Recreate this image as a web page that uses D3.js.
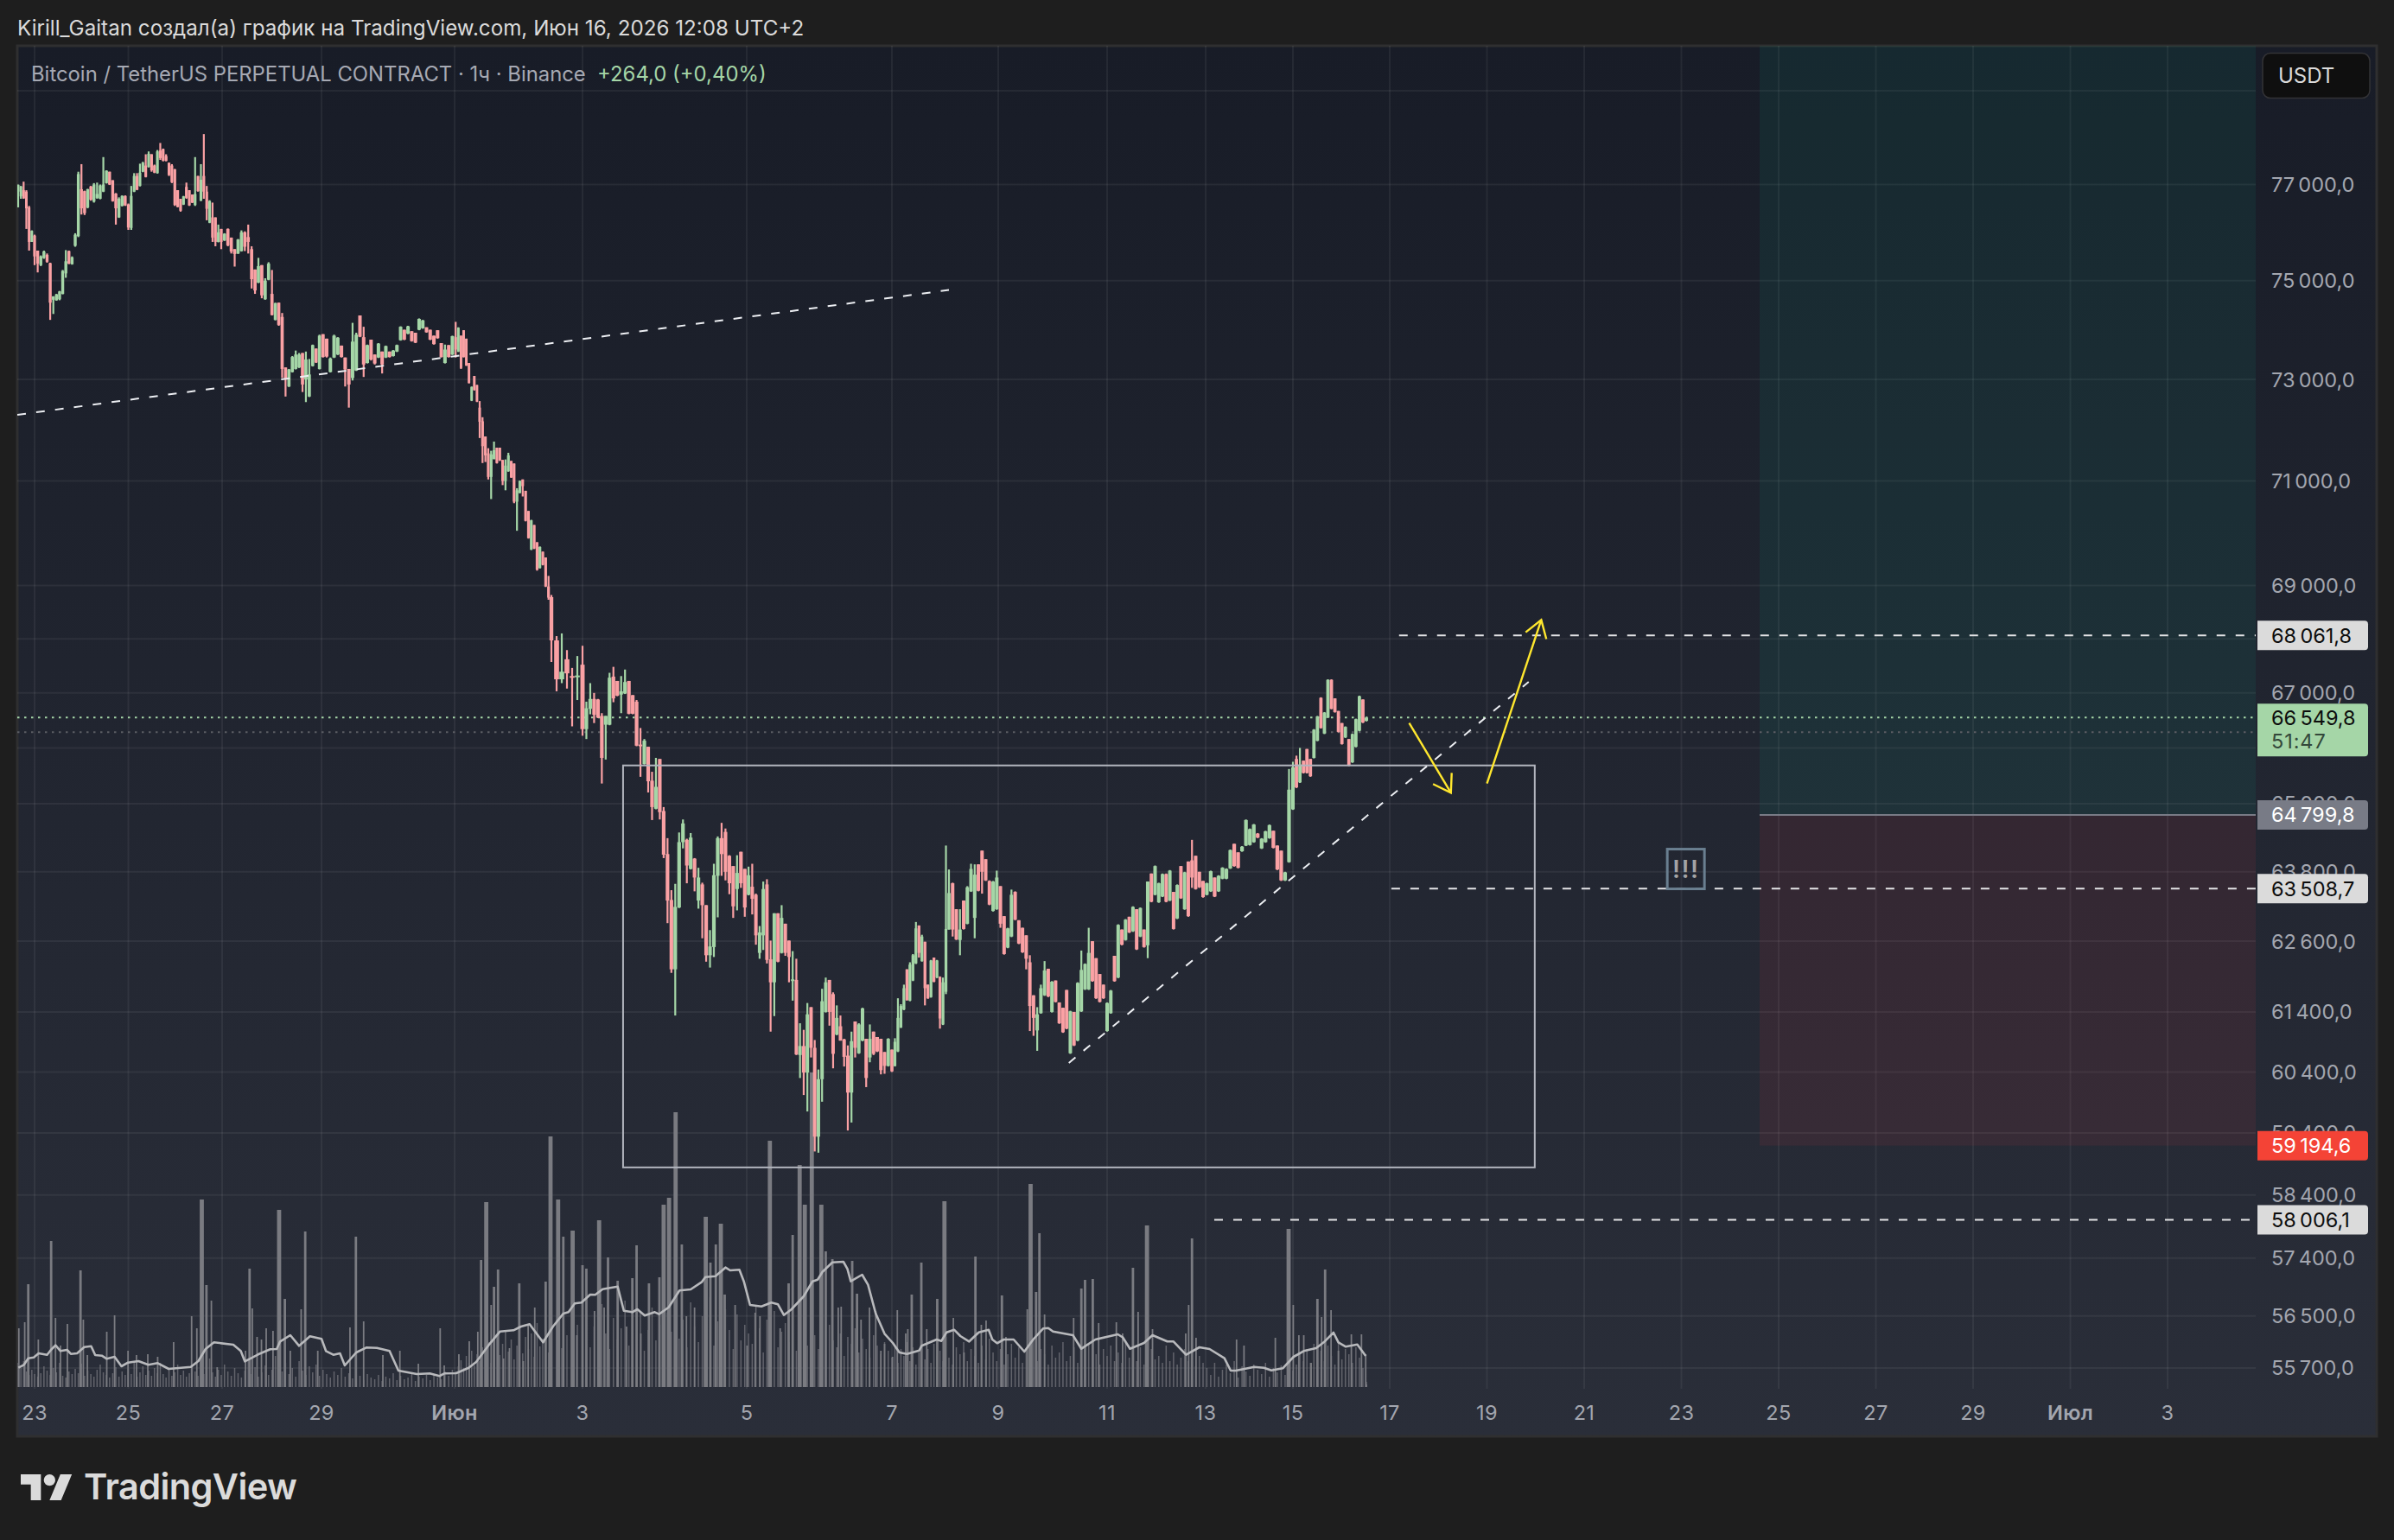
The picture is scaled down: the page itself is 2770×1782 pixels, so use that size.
<!DOCTYPE html>
<html><head><meta charset="utf-8">
<script src="https://cdn.jsdelivr.net/npm/d3@7"></script>
<style>html,body{margin:0;padding:0;background:#1e1e1e}svg{display:block}text{font-family:Inter,"Noto Sans",sans-serif}</style>
</head><body><svg id="c" width="2770" height="1782"></svg>
<script>
// ---- DATA: rows are [open, high, low, close] ----
const ohlcMay = [
[76850,77000,76520,76990],[76750,76970,76700,76960],[76880,77060,76700,76710],[76850,76880,76070,76500],[76520,76550,75620,75800],[75800,76040,75800,76030],[75930,75950,75320,75500],[75620,75620,75170,75350],[75320,75520,75300,75500],[75470,75620,75450,75600],
[75530,75560,75370,75390],[75360,75370,74200,74550],[74610,74680,74320,74680],[74600,74730,74590,74720],[74620,74790,74600,74780],[74730,75220,74720,75200],[75150,75630,75060,75400],[75610,75620,75340,75350],[75340,75500,75330,75480],[75720,75980,75700,75950],
[75920,77270,75900,77220],[76900,77430,76370,76500],[76860,76870,76360,76400],[76520,76910,76500,76900],[76960,76970,76660,76680],[76640,77030,76620,77000],[76720,77040,76700,76800],[76700,77000,76690,76980],[76850,77580,76840,77000],[77030,77300,77020,77290],
[77270,77270,76990,77000],[77090,77090,76640,76650],[76810,76820,76160,76500],[76310,76730,76300,76700],[76550,76770,76540,76760],[76760,76770,76550,76560],[76580,76600,76050,76100],[76090,76970,76050,76760],[76850,77240,76840,77180],[77180,77240,76880,76890],
[76970,77440,76960,77250],[77270,77480,77260,77460],[77400,77640,77150,77160],[77370,77700,77360,77650],[77640,77640,77270,77300],[77400,77420,77240,77250],[77240,77730,77230,77700],[77720,77880,77520,77560],[77750,77760,77490,77500],[77600,77640,77490,77500],
[77460,77460,77180,77200],[77400,77430,77030,77050],[77320,77330,76550,76570],[76880,76880,76520,76530],[76700,76700,76430,76450],[76580,76760,76570,76750],[76950,77040,76700,76720],[76880,76880,76550,76560],[76790,76790,76610,76620],[76570,77580,76550,76800],
[77180,77180,76850,76860],[76660,77430,76650,77100],[77180,78070,76700,76850],[76850,76970,76250,76490],[76200,76670,76190,76650],[76310,76620,75800,75890],[76310,76310,75710,75800],[75800,76160,75790,76000],[76070,76070,75650,75800],[75830,75980,75820,75970],
[76070,76080,75710,75730],[75890,75890,75560,75600],[75650,75650,75290,75550],[75560,75860,75550,75850],[75610,76040,75600,76000],[76000,76020,75610,75700],[75900,76160,75560,75800],[75650,75710,74840,75030],[75230,75230,74730,74800],[74960,75470,74950,75300],
[75320,75320,74640,74700],[74620,75050,74610,75000],[75020,75380,75010,75350],[74730,75220,74290,74300],[74200,74550,74190,74540],[74550,74550,74080,74100],[74260,74340,73030,73210],[73240,73240,72660,73000],[72860,73210,72850,73200],[73150,73470,73140,73450],
[73210,73580,73200,73500],[73240,73530,73230,73500],[73530,73530,72750,72900],[73000,73560,72550,73400],[72660,73410,72650,73100],[73270,73700,73260,73690],[73620,73620,73330,73340],[73210,73900,73200,73880],[73910,73910,73440,73450],[73820,73820,73440,73460],
[73150,73440,73140,73420],[73440,73900,73430,73880],[73500,73850,73490,73840],[73680,73680,73440,73450],[73440,73440,72860,73200],[73210,73210,72440,72900],[73030,74140,72980,73760],[73180,73940,73170,73900],[74290,74290,73850,73860],[73850,74060,73050,73300],
[73330,73700,73320,73690],[73800,73800,73380,73400],[73500,73500,73300,73320],[73440,73730,73430,73720],[73560,73560,73120,73300],[73440,73680,73430,73670],[73560,73560,73440,73450],[73470,73590,73460,73580],[73560,73700,73550,73690],[73790,74070,73780,74060],
[74000,74000,73790,73800],[73920,74080,73910,74070],[73970,73970,73760,73770],[73940,73940,73730,73740],[74000,74230,73990,74220],[74030,74200,74020,74190],[74050,74050,73940,73950],[74000,74000,73790,73800],[73880,73880,73700,73710],[73990,73990,73820,73830],
[73730,73730,73440,73450],[73330,73700,73320,73600],[73690,73690,73440,73450],[73500,73880,73490,73870]];
const ohlcFall = [
[73850,74160,73440,73600],[73560,74050,73550,74040],[73880,73880,73210,73230],[73990,73990,73440,73450],[73820,73820,73270,73280],[73330,73330,72920,72930],[72580,72860,72570,72850],[73070,73070,72780,72790],[72890,72890,72550,72560],[72440,72570,71840,72160],
[72170,72250,71350,71680],[71870,71870,71370,71500],[71540,71640,71030,71080],[71080,71590,70650,71520],[71430,71770,71420,71600],[71650,71650,71340,71350],[71650,71650,71390,71400],[71410,71410,70920,71000],[71000,71420,70820,71300],[71190,71550,71180,71500],
[71390,71390,71060,71070],[71340,71340,70570,70600],[70600,70860,70040,70820],[70770,71010,70760,71000],[71030,71030,70700,70900],[70810,70810,70220,70230],[70420,70420,69890,69900],[69680,70250,69670,70240],[70150,70150,69690,69700],[69820,69820,69280,69300],
[69330,69740,69320,69730],[69640,69640,69380,69390],[69530,69530,68970,68980],[68980,69180,68730,68770],[68780,68820,67570,67970],[67970,68050,67030,67250],[67250,68100,67180,67390],[67620,67790,67080,67360],[67310,67460,66390,67300],[67300,67680,66870,67320],
[67520,67870,66220,66340]];
const ohlcBase = [
[66340,66840,66160,66720],[66710,67180,66610,66890],[66890,67000,66450,66600],[66880,66890,66540,66550],[66580,66630,65360,65820],[66420,66580,65790,66580],[66420,67370,66410,67280],[67300,67480,66830,66900],[67220,67220,66940,66950],[66970,67310,66630,67030],
[66990,67430,66980,67200],[67220,67220,66610,66620],[66960,66960,66610,66620],[66840,66870,66030,66040],[66060,66360,65480,66050],[65710,66160,65700,66130],[66020,66020,65200,65400],[65410,65570,64710,64940],[64910,65820,64900,65300],[65800,65800,64720,64850],
[64870,64940,64040,64100],[64110,64390,62910,63300],[63310,63480,62060,62120],[62120,63590,61340,63190],[63180,64490,63170,64320],[64320,64720,64210,64650],[64360,64380,63600,63910],[63850,64480,63840,64400],[64030,64040,63460,63700],[63300,63870,63160,63700],
[63580,63610,62650,63220],[63220,63220,62250,62360],[62360,62790,62150,62510],[62500,63940,62330,63740],[63730,64420,63010,64390],[64390,64660,63730,64110],[64500,64560,63650,63800],[64080,64090,63410,63600],[63900,63900,63000,63200],[63500,64090,63130,63780],
[64150,64150,63520,63600],[63850,63850,63020,63180],[63400,63890,63390,63740],[63540,63940,63060,63330],[63400,63420,62540,62700],[62400,62860,62300,62750],[62700,63630,62450,63500],[63580,63670,62220,62280],[62290,62610,61070,61900],[61900,63080,61330,63080],
[63080,63080,62240,62250],[62400,63220,62390,63000],[62900,62900,62350,62400],[62610,62610,61900,62330],[61930,62430,61590,61950],[61940,62300,60680,60690],[60680,61210,60300,60830],[60830,61100,60020,60390],[60390,61550,59750,61360],[61480,61480,60640,60800],
[60800,60930,59100,59340],[59340,60440,59080,60280],[60280,61790,59910,61580],[61400,61980,61390,61900],[61940,61940,61170,61400],[61700,61730,60460,60700],[61020,61510,61010,61300],[61160,61340,60920,60920],[60940,60950,60490,60650],[60670,60840,59440,60060],
[60060,61070,59570,60910],[61240,61240,60640,60800],[60710,61210,60700,61190],[60920,61470,60910,61460],[60950,60950,60150,60300],[60640,61190,60560,60950],[61070,61070,60680,60700],[60980,60980,60730,60740],[60950,60950,60360,60430],[60730,60730,60370,60500],
[60500,60960,60490,60950],[60770,60770,60400,60410]];
const ohlcTurn = [
[60500,60960,60490,60900],[60740,61630,60730,61300],[61140,61530,61130,61500],[61440,61860,61430,61800],[62120,62120,61590,61600],[61590,62240,61580,62200],[61930,62380,61920,62360],[62220,62930,62210,62820],[62870,62870,62320,62400],[62260,62710,62250,62680],
[62590,62590,61510,61800],[61860,61860,61620,61630],[61650,62280,61640,62270],[62320,62320,61900,61910],[61980,62280,61970,62270],[61990,62000,61120,61290],[61190,61980,61180,61900],[61740,64260,61700,62810],[62800,63840,62800,63430],
[63600,63610,62680,62800],[63150,63150,62620,62630],[62620,63150,62360,62800],[63300,63300,62800,62810],[62900,63550,62890,63530],[63460,63940,63450,63850],[63000,63930,62650,63750],[63930,63930,63460,63470],[64170,64170,63420,63800],[64020,64020,63640,63650],
[63640,63650,63220,63230],[63120,63640,63110,63630],[63150,63820,63140,63700],[63550,63550,62830,62900],[63030,63030,62370,62380],[62490,62830,62480,62820],[62680,63490,62670,63400],[63450,63460,62960,62970],[62960,62960,62550,62560],[62830,62830,62400,62410],
[62700,62700,62120,62300],[62240,62360,61080,61500],[61680,61680,61000,61300],[61090,61480,60750,61360],[61380,61860,61370,61800],[61680,62260,61670,62100],[62130,62130,61650,61660],[61400,61920,61390,61910],[61930,61930,61560,61570],[61560,61560,61200,61210],
[61470,61470,61050,61060],[61770,61770,61110,61120],[60710,61420,60700,61410],[61400,61400,60830,60840],[60920,61900,60910,61890],[61410,62440,61400,62110],[61780,62220,61770,62210],[61780,62830,61770,62400],[62600,62600,61910,61920],[62310,62310,61620,61630],
[62040,62040,61560,61570],[61860,61860,61620,61630],[61080,61560,61070,61550],[61380,61770,61370,61760]];
const ohlcRise = [
[62350,62350,61910,61920],[61980,62890,61970,62880],[62800,62800,62530,62540],[62620,62980,62610,62970],[63020,63020,62740,62750],[62770,63200,62760,63190],[63150,63150,62450,62460],[62680,63180,62670,63170],[62800,62800,62490,62500],[62530,63630,62310,63630],
[63770,63770,63270,63280],[63400,63910,63390,63900],[63270,63610,63260,63600],[63370,63770,63360,63760],[63760,63770,63270,63280],[63300,63830,63290,63820],[63450,63450,62800,62810],[62990,63580,62980,63570],[63900,63900,63330,63340],[63150,63800,63140,63790],
[63980,63980,63020,63030],[64000,64360,63520,63700],[64080,64080,63490,63500],[63800,63800,63520,63530],[63640,63640,63350,63360],[63400,63610,63390,63600],[63460,63820,63450,63810],[63700,63700,63360,63370],[63460,63740,63450,63730],[63680,63880,63670,63870],
[63680,63860,63670,63850],[63860,64190,63850,64180],[64290,64290,63890,63900],[64140,64140,63860,63870],[64160,64250,64150,64240],[64260,64720,64250,64710],[64270,64560,64260,64550],[64320,64640,64310,64630],[64470,64480,64390,64400],[64210,64390,64200,64380],
[64320,64520,64310,64510],[64390,64630,64380,64620],[64520,64520,64210,64220],[64260,64260,63830,63840],[64170,64170,63640,63650],[63650,63800,63640,63790],[63970,65620,63960,65250],[64900,65750,64890,65650],[65800,65860,65280,65290],[65380,66000,65370,65700],
[65770,65770,65540,65550],[65980,65980,65540,65550],[65800,65800,65480,65490],[65820,66340,65810,66330],[66130,66580,66120,66570],[66910,66920,66350,66360],[66260,66650,66250,66640],[66550,67250,66540,67240],[67240,67250,66700,66710],[66900,66900,66640,66650],
[66670,66670,66280,66290],[66450,66450,66060,66070],[66190,66390,66180,66380],[66160,66160,65670,65680],[65740,66260,65730,66250],[66020,66530,66010,66520],[66310,66950,66300,66940],[66880,66880,66450,66460],[66490,66550,66480,66549.8]];

// small volume bars, one per candle
const volBaseMay = [28,22,30,18,14,20,15,12,16,24,19,14,22,17,28,13,11,18,15,21,
16,27,13,19,15,12,20,26,17,14,11,16,23,12,18,14,21,15,30,12,
17,24,14,19,13,22,16,28,15,11,20,13,17,26,14,19,12,16,24,18,
13,29,15,21,33,17,12,20,14,26,18,13,22,16,11,19,31,15,23,12,
17,25,14,20,36,13,18,28,15,22,12,30,19,14,24,17,26,13,20,15,
11,18,14,22,12,16,10,19,13,8,15,11,9,14,7,12,10,16,8,13,
9,11,17,7,12,10,14,8,15,11,9,18,13,20];
const volBaseJun = [18,24,31,22,36,28,42,25,38,30,46,34,52,28,44,60,37,50,66,41,
55,32,48,70,39,58,44,62,35,74,47,56,68,40,52,78,45,60,50,72,
58,84,46,70,52,96,62,44,80,55,68,100,48,74,60,88,42,66,92,54,
72,50,86,64,110,56,78,46,98,70,52,82,60,104,48,76,58,90,66,44,
84,54,72,62,50,94,68,40,78,56,88,46,64,74,52,86,42,70,58,48,
80,60,44,66,38,72,54,46,62,36,58,50,68,40,56,44,34,60,48,38,52,42];
const volBaseLate = [34,48,28,44,36,52,30,46,26,40,54,32,44,28,50,36,42,30,58,34,
26,46,38,52,30,44,36,28,48,32,56,40,30,44,26,38,50,34,46,28,
42,36,54,30,44,38,26,48,34,40,52,30,36,46,28,42,34,50,32,38,
26,44,36,48,30,40,28,52,34,42,30,46,26,38,44,32,36,28,48,30,
40,26,34,44,30,38,24,36,28,
22,14,28,12,20,26,16,30,11,24,18,13,26,20,15,28,12,22,17,25,14,32,19,
26,38,30,44,28,50,34,42,30,48,36,26,52,32,44,38,28,46,34,22,6];
// taller volume bars, [bar index, volume]
const volPeaks = [[0.25,68],[2.4,75],[3.7,119],[7.2,55],[11.3,169],[12.7,80],[14.3,48],[16.5,73],[20.7,135],[21.6,78],[22.9,37],[29.1,64],[31.6,83],[35.9,42],
[38.8,37],[42.7,38],[46.1,35],[51.6,52],[57.8,82],[59.6,68],[61.3,217],[62.9,118],[64.6,100],[66.6,23],[75.2,42],[76.4,137],[77.2,91],[78.6,58],[79.9,55],[81.3,68],[83.3,65],[85.1,205],[86.8,102],[88.4,42],[91.6,90],[92.8,180],[96.5,42],
[105.3,69],[106.9,174],[109,76],[114.2,37],[118.8,42],[123.8,27],[129.7,68],[130.8,25],[135.2,38],[139.1,53],[142.3,64],[143.5,147],[145.3,214],[147,95],[148,116],[149.4,136],[151.3,33],[153.4,45],[156.8,120],[158.2,30],[159.9,73],[162.2,92],[166,122],
[167.7,290],[169.3,217],[170.3,174],[172.1,181],[172.9,60],[174,141],[175,137],[177.1,88],[178.3,193],[179.6,92],[180.6,150],[183.1,123],[185.4,70],[186.9,126],[188,164],[189.1,62],[191.2,120],[193.9,127],[195,211],[196.4,219],[198.1,318],[199.7,165],[200.9,82],[203,92],[205.9,197],[207.1,144],[208.5,165],[209.8,189],[210.8,107],[213.5,95],[216.6,48],[218.8,86],[220.1,82],[222.8,285],
[225.6,68],[227.9,120],[229,176],[230.9,257],[232.3,211],[234.2,364],[236.8,211],[238,157],[239.8,148],[241.4,92],[242.2,93],[245.2,146],[246.5,108],[247.6,78],[249.9,92],[251.6,88],[253,42],[254,50],[256.2,35],[257.8,89],[260.6,62],[261.3,67],[262.6,107],[265.8,144],[267.6,67],[271.1,102],[273.5,215],[276.2,80],[279.1,40],[282.2,151],[283.8,72],[285.1,77],[289.4,106],[290.5,58],[296.3,90],[297.2,235],[298.7,110],[299.6,178],[301,84],[308.9,80],[311,114],[312,124],[314.1,125],[315.7,74],[320.5,75],[322.2,62],[325,138],[326.4,87],[328.8,187],[330.3,67],[339.3,62],[340.1,95],[341,172],[342.1,57],[352.6,55],[354.5,48],[362.5,57],[365.9,183],[367.1,95],[368.7,60],[370.1,60],[372.2,28],[374,102],[375.2,81],[376.2,136],[377.9,89],[380,42],[383.7,61],[386.6,61],[387.8,38],[388,3]];
// volume moving average, [bar index, volume]
const volMA = [[0.1,22.3],[2.1,25.7],[3.7,33.3],[5.7,34.3],[7.3,39],[10,37.3],[11.3,43.3],[12.7,48.3],[14.3,41.7],[16.4,43],[17.6,38.3],[19.6,39],[21.9,46.3],[24.1,47.3],[25.4,37],[27.5,36.3],[29.1,32.7],[31.6,35],[33.8,24],[35.9,28.3],[39.5,30],[42.9,25.7],[46.1,27.7],[49.9,21],[57.5,23.3],[60.1,30],[62.6,44],[65.5,51.7],[71.6,49],[73.8,41.7],[75,29.7],[78.9,37.7],[82.5,43.7],[84.4,44],[85.4,52.7],[88.4,60],[91,47.7],[94.2,58.7],[97.6,55.7],[98.8,41.7],[100.8,37.3],[102.6,39],[103.9,25],[107,40],[109.7,45.7],[112.6,45.3],[116,41.7],[118.4,19],[123.4,15],[126.9,15.7],[129.5,12.7],[130.8,15.7],[134.2,16],[138.9,22.3],[141.7,29],[146.1,48.3],[150.1,64.3],[154.8,65.7],[157.4,70],[160.4,72.7],[165.1,51.7],[168.3,70],[170.3,85],[171.3,86.7],[172.5,96.7],[173.8,97.7],[176,107],[177.3,106.7],[179.2,113.3],[183.1,116.3],[184.7,88.3],[186.9,86.7],[188.2,90],[190.1,82.7],[192.7,86.7],[193.8,84.3],[196.3,92.3],[199.1,111.7],[202,113],[204.9,121.7],[205.8,127.3],[208.4,128.3],[211,138.3],[212.2,135],[214.6,135.7],[215.8,121.7],[217.4,95],[220.5,93.3],[223.2,97.7],[225,95.7],[226.6,83.3],[228.7,90],[232,105],[234.4,122.3],[235.8,124.3],[237.1,133.3],[239.8,144.3],[242.8,145],[243.9,136.7],[244.8,122.3],[247.9,130],[249.5,118.3],[251.6,85],[254,61.7],[256.3,51],[258.5,40],[261,38.3],[265.1,42.3],[265.9,47.7],[270.9,55],[272.5,53.3],[274.2,63.3],[276.4,66.3],[278.1,59],[280.5,52.7],[283.1,63.3],[285.8,66.3],[286.8,55],[288.1,50.7],[289.9,55],[292.6,55],[295.5,41],[297.9,55],[300.6,67.7],[302,68.3],[303.3,64.3],[308.7,60],[311,44.3],[314.8,55],[320.9,61],[322.2,57.7],[324.2,44.3],[328,51],[330.3,60],[334.3,52.7],[336,52.7],[339.4,37.3],[343,46],[345.7,44],[349.5,33.3],[351.1,19],[352.4,19],[357.1,23.3],[359.6,22.3],[361.5,19.3],[364.4,21.7],[367.2,35],[370.1,41.7],[373.6,45],[375.8,51.7],[378.6,63],[380,51.7],[382.1,46.7],[385.4,49.3],[387.8,36]];

const priceTicks = [79000,77000,75000,73000,71000,69000,68000,67000,66000,65000,63800,62600,61400,60400,59400,58400,57400,56500,55700];
const hiddenPriceLabels = [79000,68000,66000];
const timeTickBars = [6,36,68.3,97.6,133.6,174,216.5,256,288.4,318,344.7,367,394,418,442,466,490,514,538,562,586];
const timeTickLabels = ["23","25","27","29","Июн","3","5","7","9","11","13","15","17","19","21","23","25","27","29","Июл","3"];
const boldLabels = ["Июн","Июл"];
const rangeBox = {bar0:184.5, bar1:429.8, top:65684, bottom:58843};
const trendLines = [{bar0:-0.3,p0:72298,bar1:275,p1:74810},{bar0:307.6,p0:60550,bar1:428.3,p1:67203}];
const levelLines = [{bar0:396.3,price:68061.8},{bar0:394.4,price:63508.7},{bar0:346.9,price:58006.1}];
const arrowLines = [{bar0:398.8,p0:66450,bar1:409.1,p1:65195},{bar0:418,p0:65360,bar1:431.4,p1:68352}];
const riskZone = {bar:485.3, entry:64799.8, stop:59194.6};
const priceNow = 66549.8, prevClose = 66285.8;
const noteMark = {bar:467.1, price:63849};
const headerText = "Kirill_Gaitan создал(а) график на TradingView.com, Июн 16, 2026 12:08 UTC+2";
const legendText = "Bitcoin / TetherUS PERPETUAL CONTRACT · 1ч · Binance";
const legendChange = "+264,0 (+0,40%)";

// ---- LAYOUT ----
const L=20,R=2750,T=53,B=1662,AX=2610,VB=1605;
const barKnots=[0,6,36,68.3,97.6,133.6,143,168,174,216.5,256,275,288.4,318,344.7,367,388,394,418];
const pxKnots=[21,40,148.5,257,372,526,555,638,674,864,1032,1098,1155,1281,1395,1496,1581,1608,1720.5];
const candles=[...ohlcMay,...ohlcFall,...ohlcBase,...ohlcTurn,...ohlcRise];
const volBase=[...volBaseMay,...volBaseJun,...volBaseLate];
const x=d3.scaleLinear().domain(barKnots).range(pxKnots);
const y=d3.scaleLog().domain([77000,59400]).range([213.5,1311]);
const yVol=d3.scaleLinear().domain([0,364]).range([VB,1241]);
const fmt=d3.formatLocale({decimal:",",thousands:"\u202f",grouping:[3],currency:["",""]}).format(",.1f");
const UP="#a5d6a7",DOWN="#faa1a4";
const svg=d3.select("#c");
const defs=svg.append("defs");
const g=defs.append("linearGradient").attr("id","bg").attr("x1",0).attr("x2",0).attr("y1",0).attr("y2",1);
g.append("stop").attr("offset",0).attr("stop-color","#181c27");
g.append("stop").attr("offset",1).attr("stop-color","#2a2e39");
defs.append("clipPath").attr("id","plot").append("rect").attr("x",L).attr("y",T).attr("width",AX-L).attr("height",B-T);
svg.append("rect").attr("width",2770).attr("height",1782).attr("fill","#1e1e1e");
svg.append("rect").attr("x",L).attr("y",T).attr("width",R-L).attr("height",B-T).attr("fill","url(#bg)").attr("stroke","#2f2f30").attr("stroke-width",3);
const plot=svg.append("g").attr("clip-path","url(#plot)");
// grid
plot.selectAll(".gh").data(priceTicks).join("line").attr("x1",L).attr("x2",AX).attr("y1",d=>y(d)).attr("y2",d=>y(d)).attr("stroke","rgba(255,255,255,.06)").attr("stroke-width",2);
plot.selectAll(".gv").data(timeTickBars).join("line").attr("x1",d=>x(d)).attr("x2",d=>x(d)).attr("y1",T).attr("y2",VB+2).attr("stroke","rgba(255,255,255,.06)").attr("stroke-width",2);
// zones
plot.append("rect").attr("x",x(riskZone.bar)).attr("width",AX-x(riskZone.bar)).attr("y",T).attr("height",y(riskZone.entry)-T).attr("fill","rgba(8,153,129,.1)");
plot.append("rect").attr("x",x(riskZone.bar)).attr("width",AX-x(riskZone.bar)).attr("y",y(riskZone.entry)).attr("height",y(riskZone.stop)-y(riskZone.entry)).attr("fill","rgba(242,54,69,.085)");
plot.append("line").attr("x1",x(riskZone.bar)).attr("x2",AX).attr("y1",y(riskZone.entry)).attr("y2",y(riskZone.entry)).attr("stroke","#787b86").attr("stroke-width",2);
// volume
const VC="#7a7b81";
plot.selectAll(".vb").data(volBase).join("rect").attr("x",(d,i)=>x(i)-.75).attr("width",1.5).attr("y",d=>yVol(d)).attr("height",d=>VB-yVol(d)).attr("fill",VC).attr("opacity",.7);
plot.selectAll(".vp").data(volPeaks).join("rect").attr("x",d=>x(d[0])-(d[1]>180?2.4:d[1]>100?1.4:.9)).attr("width",d=>d[1]>180?4.8:d[1]>100?2.8:1.8).attr("y",d=>yVol(d[1])).attr("height",d=>VB-yVol(d[1])).attr("fill",VC);
// price reference lines
plot.append("line").attr("x1",L).attr("x2",AX).attr("y1",y(prevClose)).attr("y2",y(prevClose)).attr("stroke","#5b5d63").attr("stroke-width",2).attr("stroke-dasharray","2.5 5.5");
plot.append("line").attr("x1",L).attr("x2",AX).attr("y1",y(priceNow)).attr("y2",y(priceNow)).attr("stroke",UP).attr("stroke-width",2).attr("stroke-dasharray","2.5 5.5");
// candles
const step=i=>x(i+.5)-x(i-.5);
const bodyW=i=>Math.max(2.6,step(i)*.94);
plot.selectAll(".w").data(candles).join("rect").attr("x",(d,i)=>x(i)-1.1).attr("width",2.2).attr("y",d=>y(d[1])).attr("height",d=>y(d[2])-y(d[1])).attr("fill",d=>d[3]>=d[0]?UP:DOWN);
plot.selectAll(".b").data(candles).join("rect").attr("x",(d,i)=>x(i)-bodyW(i)/2).attr("width",(d,i)=>bodyW(i))
 .attr("y",d=>y(Math.max(d[0],d[3]))).attr("height",d=>Math.max(2,Math.abs(y(d[0])-y(d[3])))).attr("fill",d=>d[3]>=d[0]?UP:DOWN);
// volume MA
plot.append("path").datum(volMA).attr("fill","none").attr("stroke","#b8b9bc").attr("stroke-width",2.6).attr("stroke-linejoin","round").attr("d",d3.line().x(d=>x(d[0])).y(d=>yVol(d[1])));
// drawings
plot.append("rect").attr("x",x(rangeBox.bar0)).attr("y",y(rangeBox.top)).attr("width",x(rangeBox.bar1)-x(rangeBox.bar0)).attr("height",y(rangeBox.bottom)-y(rangeBox.top)).attr("fill","none").attr("stroke","#b2b5be").attr("stroke-width",2);
plot.selectAll(".t").data(trendLines).join("line").attr("x1",d=>x(d.bar0)).attr("y1",d=>y(d.p0)).attr("x2",d=>x(d.bar1)).attr("y2",d=>y(d.p1)).attr("stroke","#eceef2").attr("stroke-width",2).attr("stroke-dasharray","10 12");
plot.selectAll(".l").data(levelLines).join("line").attr("x1",d=>x(d.bar0)).attr("x2",AX).attr("y1",d=>y(d.price)).attr("y2",d=>y(d.price)).attr("stroke","#e4e4e6").attr("stroke-width",2).attr("stroke-dasharray","10 12");
arrowLines.forEach(a=>{
 const x0=x(a.bar0),y0=y(a.p0),x1=x(a.bar1),y1=y(a.p1),ang=Math.atan2(y1-y0,x1-x0),hl=23,sp=.58;
 const p=[[x1+hl*Math.cos(ang+Math.PI-sp),y1+hl*Math.sin(ang+Math.PI-sp)],[x1,y1],[x1+hl*Math.cos(ang+Math.PI+sp),y1+hl*Math.sin(ang+Math.PI+sp)]];
 plot.append("line").attr("x1",x0).attr("y1",y0).attr("x2",x1).attr("y2",y1).attr("stroke","#ffe72e").attr("stroke-width",2.4);
 plot.append("path").attr("d",d3.line()(p)).attr("fill","none").attr("stroke","#ffe72e").attr("stroke-width",2.4);
});
// note
const nx=x(noteMark.bar),ny=y(noteMark.price);
plot.append("rect").attr("x",nx-21.5).attr("y",ny-23).attr("width",43).attr("height",46).attr("fill","none").attr("stroke","#6a7f90").attr("stroke-width",3);
plot.append("text").attr("x",nx).attr("y",ny+10).attr("text-anchor","middle").attr("font-size",28).attr("font-weight",600).attr("letter-spacing",1.5).attr("fill","#a3a3a5").text("!!!");

// axis labels
svg.selectAll(".pl").data(priceTicks.filter(d=>!hiddenPriceLabels.includes(d))).join("text").attr("x",2628).attr("y",d=>y(d)).attr("dy",".36em").attr("font-size",23.5).attr("letter-spacing",.9).attr("fill","#a3a6af").text(d=>fmt(d));
svg.selectAll(".tl").data(timeTickBars).join("text").attr("x",d=>x(d)).attr("y",1635).attr("dy",".36em").attr("text-anchor","middle").attr("font-size",23.5).attr("letter-spacing",.4)
 .attr("font-weight",(d,i)=>boldLabels.includes(timeTickLabels[i])?600:400).attr("fill","#a3a6af").text((d,i)=>timeTickLabels[i]);
// price tags
function tag(p,fill,col){const c=y(p);
 svg.append("path").attr("d",`M2612 ${c-17}H2736a4 4 0 0 1 4 4V${c+13}a4 4 0 0 1 -4 4H2612Z`).attr("fill",fill);
 svg.append("text").attr("x",2628).attr("y",c).attr("dy",".36em").attr("font-size",23.5).attr("letter-spacing",.9).attr("fill",col).text(fmt(p));}
tag(levelLines[0].price,"#dbdbdb","#0d0d0d");
tag(riskZone.entry,"#787b86","#ffffff");
tag(levelLines[1].price,"#dbdbdb","#0d0d0d");
tag(riskZone.stop,"#f44336","#ffffff");
tag(levelLines[2].price,"#dbdbdb","#0d0d0d");
const gc=y(priceNow);
svg.append("path").attr("d",`M2612 ${gc-16}H2736a4 4 0 0 1 4 4V${gc+41}a4 4 0 0 1 -4 4H2612Z`).attr("fill",UP);
svg.append("text").attr("x",2628).attr("y",gc).attr("dy",".36em").attr("font-size",23.5).attr("letter-spacing",.9).attr("fill","#0d0d0d").text(fmt(priceNow));
svg.append("text").attr("x",2628).attr("y",gc+27).attr("dy",".36em").attr("font-size",23.5).attr("letter-spacing",.9).attr("fill","#34483a").text("51:47");
// USDT box
svg.append("rect").attr("x",2618).attr("y",61.5).attr("width",124).attr("height",52).attr("rx",9).attr("fill","#0f0f0f").attr("stroke","#333336").attr("stroke-width",1.5);
svg.append("text").attr("x",2636).attr("y",87).attr("dy",".36em").attr("font-size",24).attr("fill","#dbdbdb").text("USDT");
// header & legend
svg.append("text").attr("x",20).attr("y",32).attr("dy",".36em").attr("font-size",24.2).attr("fill","#dbdbdb").text(headerText);
svg.append("text").attr("x",36).attr("y",85).attr("dy",".36em").attr("font-size",23.85).attr("fill","#a6a9b3").text(legendText);
svg.append("text").attr("x",691).attr("y",85).attr("dy",".36em").attr("font-size",23.9).attr("fill",UP).text(legendChange);
// logo
const logo=svg.append("g").attr("transform","translate(24,1699.3) scale(1.667)").attr("fill","#dbdbdb");
logo.append("path").attr("d","M14 22H7V11H0V4h14v18zM28 22h-8l7.5-18h8L28 22z");
logo.append("circle").attr("cx",20).attr("cy",8).attr("r",4);
svg.append("text").attr("x",97).attr("y",1735).attr("font-size",41.5).attr("font-weight",600).attr("letter-spacing",-.6).attr("fill","#dbdbdb").text("TradingView");
</script></body></html>
